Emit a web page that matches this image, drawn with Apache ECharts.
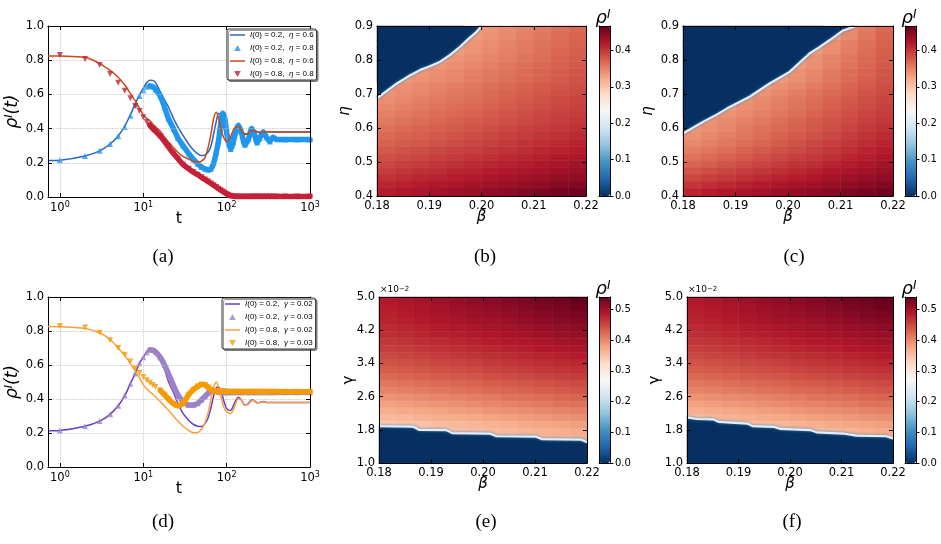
<!DOCTYPE html>
<html>
<head>
<meta charset="utf-8">
<title>rho I panels</title>
<script src="https://cdn.jsdelivr.net/npm/echarts@6.0.0/dist/echarts.min.js"></script>
<style>
  html, body { margin: 0; padding: 0; background: #fff; }
  #chart { width: 941px; height: 544px; }
</style>
</head>
<body>
<div id="chart"></div>
<script>
// ---- values ----

// time samples used by panels (a) and (d)
var tGrid = [0.72,1,2,3,4,5,6,7,8,9,10,11,12,13,14,16,18,20,23,26,30,35,40,45,50,55,60,65,70,75,80,85,90,95,100,
  105,112,120,130,138,150,166,183,200,215,232,250,275,300,330,360,400,500,700,1000];

// panel (a)
var blueLineA = [.213,.215,.24,.27,.31,.357,.415,.48,.544,.596,.636,.668,.683,.682,.67,.616,.567,.528,.46,.41,.36,
  .31,.275,.252,.242,.245,.262,.30,.37,.44,.49,.475,.43,.385,.35,.333,.34,.365,.395,.405,.39,
  .37,.372,.385,.388,.382,.378,.38,.382,.381,.38,.38,.38,.38,.38];
var blueMarkA = [.213,.215,.24,.27,.31,.355,.41,.475,.54,.59,.625,.645,.65,.645,.63,.59,.525,.46,.40,.345,.30,
  .255,.22,.195,.175,.165,.16,.165,.20,.26,.33,.43,.49,.46,.38,.32,.28,.32,.39,.42,.38,
  .305,.34,.40,.37,.318,.345,.38,.35,.325,.35,.337,.336,.336,.336];
var redLineA = [.825,.824,.817,.78,.74,.70,.655,.606,.563,.52,.48,.46,.445,.425,.41,.385,.35,.323,.29,.262,.238,
  .222,.21,.203,.21,.23,.29,.37,.46,.495,.46,.41,.36,.335,.323,.33,.355,.39,.41,.413,.39,
  .365,.372,.388,.388,.38,.377,.38,.382,.381,.38,.38,.38,.38,.38];
var redMarkA = [.832,.83,.807,.772,.719,.668,.622,.577,.532,.503,.466,.439,.42,.40,.385,.355,.325,.295,.255,.225,.19,
  .165,.145,.13,.115,.102,.09,.079,.068,.058,.048,.04,.032,.025,.018,.012,.007,.004,.003,.003,.003,
  .003,.003,.003,.003,.003,.003,.003,.003,.003,.003,.003,.003,.003,.003];

// panel (d)
var purpleLineD = [.213,.215,.24,.27,.31,.36,.42,.49,.55,.61,.645,.675,.69,.685,.672,.632,.575,.505,.44,.375,.315,
  .275,.25,.24,.238,.255,.29,.35,.42,.465,.47,.45,.41,.37,.345,.335,.333,.36,.395,.41,.395,
  .363,.375,.395,.39,.378,.38,.385,.38,.38,.38,.38,.38,.38,.38];
var lavMarkD = [.213,.215,.24,.27,.31,.36,.42,.49,.55,.61,.645,.675,.69,.688,.678,.645,.60,.55,.48,.425,.385,
  .365,.365,.375,.395,.415,.435,.447,.45,.447,.443,.44,.44,.44,.44,.44,.44,.44,.44,.44,.44,
  .44,.44,.44,.44,.44,.44,.44,.44,.44,.44,.44,.44,.44,.44];
var orangeLineD = [.826,.825,.815,.79,.75,.70,.655,.61,.565,.525,.485,.46,.443,.428,.413,.385,.358,.335,.30,.27,.24,
  .215,.202,.203,.222,.26,.32,.40,.47,.50,.47,.42,.37,.34,.325,.318,.315,.335,.38,.40,.395,
  .365,.37,.39,.39,.38,.378,.383,.38,.38,.38,.38,.38,.38,.38];
var orangeMarkD = [.831,.83,.82,.79,.745,.70,.66,.62,.58,.553,.53,.51,.495,.482,.47,.45,.425,.40,.372,.36,.375,
  .425,.455,.473,.485,.483,.468,.455,.447,.443,.444,.447,.446,.444,.443,.443,.443,.443,.443,.443,.443,
  .443,.443,.443,.443,.443,.443,.443,.443,.443,.443,.443,.443,.443,.443];

var namesA = ['I(0) = 0.2,  η = 0.6', 'I(0) = 0.2,  η = 0.8', 'I(0) = 0.8,  η = 0.6', 'I(0) = 0.8,  η = 0.8'];
var namesD = ['I(0) = 0.2,  γ = 0.02', 'I(0) = 0.2,  γ = 0.03', 'I(0) = 0.8,  γ = 0.02', 'I(0) = 0.8,  γ = 0.03'];

// heat maps: 24 rows from top to bottom, 12 beta columns from 0.18 to 0.22
var fieldB = [
  [0,0,0,0,0,.332,.338,.344,.350,.356,.362,.368],
  [0,0,0,0,0,.333,.339,.345,.352,.358,.364,.370],
  [0,0,0,0,.332,.338,.343,.349,.355,.361,.366,.372],
  [0,0,0,0,.333,.339,.345,.351,.356,.362,.368,.374],
  [0,0,0,.332,.338,.343,.349,.354,.360,.365,.371,.376],
  [0,0,.332,.337,.342,.347,.352,.358,.363,.368,.373,.378],
  [0,.332,.337,.342,.346,.351,.356,.361,.366,.370,.375,.380],
  [0,.334,.339,.344,.348,.353,.358,.363,.368,.372,.377,.382],
  [.336,.340,.345,.349,.354,.358,.363,.367,.372,.376,.381,.385],
  [.339,.343,.348,.352,.357,.361,.366,.370,.375,.379,.384,.388],
  [.343,.347,.352,.356,.360,.365,.369,.374,.378,.382,.387,.391],
  [.347,.351,.356,.360,.364,.368,.373,.377,.381,.385,.390,.394],
  [.352,.356,.360,.364,.368,.372,.377,.381,.385,.389,.393,.397],
  [.357,.361,.365,.369,.373,.377,.380,.384,.388,.392,.396,.400],
  [.362,.366,.370,.373,.377,.381,.385,.389,.393,.396,.400,.404],
  [.367,.371,.374,.378,.382,.386,.389,.393,.397,.401,.404,.408],
  [.372,.376,.379,.383,.387,.391,.394,.398,.402,.406,.409,.413],
  [.378,.382,.385,.389,.393,.396,.400,.403,.407,.411,.414,.418],
  [.384,.388,.391,.395,.398,.402,.405,.409,.412,.416,.420,.423],
  [.390,.394,.397,.401,.404,.408,.411,.415,.418,.422,.426,.429],
  [.397,.400,.404,.407,.411,.414,.418,.421,.425,.428,.432,.435],
  [.404,.407,.411,.414,.418,.421,.425,.428,.432,.435,.439,.442],
  [.411,.415,.418,.422,.425,.429,.432,.436,.439,.443,.447,.450],
  [.418,.422,.426,.430,.434,.438,.442,.446,.450,.454,.458,.462]
];
var fieldC = [
  [0,0,0,0,0,0,0,0,.332,.344,.356,.368],
  [0,0,0,0,0,0,0,0,.333,.345,.358,.370],
  [0,0,0,0,0,0,0,.332,.342,.352,.362,.372],
  [0,0,0,0,0,0,0,.333,.343,.354,.364,.374],
  [0,0,0,0,0,0,.332,.341,.350,.358,.367,.376],
  [0,0,0,0,0,0,.333,.342,.351,.360,.369,.378],
  [0,0,0,0,0,.332,.340,.348,.356,.364,.372,.380],
  [0,0,0,0,0,.333,.341,.349,.358,.366,.374,.382],
  [0,0,0,0,.332,.340,.347,.355,.362,.370,.377,.385],
  [0,0,0,.332,.339,.346,.353,.360,.367,.374,.381,.388],
  [0,0,.332,.339,.345,.352,.358,.365,.371,.378,.384,.391],
  [0,0,.334,.341,.347,.354,.361,.367,.374,.381,.387,.394],
  [0,.332,.339,.345,.352,.358,.365,.371,.378,.384,.391,.397],
  [.333,.339,.345,.351,.357,.363,.370,.376,.382,.388,.394,.400],
  [.336,.342,.348,.355,.361,.367,.373,.379,.385,.392,.398,.404],
  [.340,.346,.352,.359,.365,.371,.377,.383,.389,.396,.402,.408],
  [.346,.352,.358,.364,.370,.376,.383,.389,.395,.401,.407,.413],
  [.353,.359,.365,.371,.377,.383,.388,.394,.400,.406,.412,.418],
  [.361,.367,.372,.378,.384,.389,.395,.400,.406,.412,.417,.423],
  [.370,.375,.381,.386,.391,.397,.402,.407,.413,.418,.423,.429],
  [.380,.385,.390,.395,.400,.405,.410,.415,.420,.425,.430,.435],
  [.390,.395,.399,.404,.409,.414,.418,.423,.428,.433,.437,.442],
  [.401,.405,.410,.414,.419,.423,.428,.432,.437,.441,.446,.450],
  [.412,.417,.421,.426,.430,.435,.439,.444,.448,.453,.457,.462]
];
var fieldE = [
  [.486,.491,.496,.501,.506,.511,.515,.520,.525,.530,.535,.540],
  [.483,.488,.492,.497,.501,.506,.510,.515,.519,.524,.528,.533],
  [.480,.484,.488,.493,.497,.501,.505,.509,.513,.518,.522,.526],
  [.477,.481,.485,.489,.493,.497,.500,.504,.508,.512,.516,.520],
  [.473,.477,.480,.484,.488,.491,.495,.498,.502,.506,.509,.513],
  [.469,.472,.476,.479,.482,.486,.489,.493,.496,.499,.503,.506],
  [.463,.466,.470,.473,.476,.479,.483,.486,.489,.492,.496,.499],
  [.457,.460,.463,.467,.470,.473,.476,.479,.482,.486,.489,.492],
  [.450,.453,.456,.459,.462,.465,.469,.472,.475,.478,.481,.484],
  [.442,.445,.448,.451,.454,.457,.461,.464,.467,.470,.473,.476],
  [.434,.437,.440,.443,.446,.449,.453,.456,.459,.462,.465,.468],
  [.425,.428,.431,.434,.437,.440,.444,.447,.450,.453,.456,.459],
  [.415,.418,.421,.424,.427,.430,.434,.437,.440,.443,.446,.449],
  [.404,.407,.411,.414,.417,.420,.424,.427,.430,.433,.437,.440],
  [.392,.395,.399,.402,.405,.409,.412,.416,.419,.422,.426,.429],
  [.381,.384,.388,.391,.395,.398,.402,.405,.409,.412,.416,.419],
  [.369,.372,.376,.379,.383,.386,.390,.393,.397,.400,.404,.407],
  [.357,.360,.364,.367,.371,.374,.378,.381,.385,.388,.392,.395],
  [.343,.347,.350,.354,.358,.361,.365,.368,.372,.376,.379,.383],
  [0,0,.345,.348,.351,.354,.357,.360,.363,.366,.369,.372],
  [0,0,0,0,0,0,.350,.353,.356,.360,.363,.366],
  [0,0,0,0,0,0,0,0,0,0,0,0],
  [0,0,0,0,0,0,0,0,0,0,0,0],
  [0,0,0,0,0,0,0,0,0,0,0,0]
];
var fieldF = [
  [.486,.491,.496,.501,.506,.511,.515,.520,.525,.530,.535,.540],
  [.483,.488,.492,.497,.501,.506,.510,.515,.519,.524,.528,.533],
  [.480,.484,.488,.493,.497,.501,.505,.509,.513,.518,.522,.526],
  [.477,.481,.485,.489,.493,.497,.500,.504,.508,.512,.516,.520],
  [.473,.477,.480,.484,.488,.491,.495,.498,.502,.506,.509,.513],
  [.469,.472,.476,.479,.482,.486,.489,.493,.496,.499,.503,.506],
  [.463,.466,.470,.473,.476,.479,.483,.486,.489,.492,.496,.499],
  [.457,.460,.463,.467,.470,.473,.476,.479,.482,.486,.489,.492],
  [.450,.453,.456,.459,.462,.465,.469,.472,.475,.478,.481,.484],
  [.442,.445,.448,.451,.454,.457,.461,.464,.467,.470,.473,.476],
  [.434,.437,.440,.443,.446,.449,.453,.456,.459,.462,.465,.468],
  [.425,.428,.431,.434,.437,.440,.444,.447,.450,.453,.456,.459],
  [.415,.418,.421,.424,.427,.430,.434,.437,.440,.443,.446,.449],
  [.404,.407,.411,.414,.417,.420,.424,.427,.430,.433,.437,.440],
  [.392,.395,.399,.402,.405,.409,.412,.416,.419,.422,.426,.429],
  [.381,.384,.388,.391,.395,.398,.402,.405,.409,.412,.416,.419],
  [.369,.372,.376,.379,.383,.386,.390,.393,.397,.400,.404,.407],
  [.355,.360,.364,.367,.371,.374,.378,.381,.385,.388,.392,.395],
  [0,.345,.349,.353,.356,.360,.364,.368,.372,.376,.379,.383],
  [0,0,0,0,0,.348,.352,.356,.360,.364,.368,.372],
  [0,0,0,0,0,0,0,0,0,.352,.358,.364],
  [0,0,0,0,0,0,0,0,0,0,0,0],
  [0,0,0,0,0,0,0,0,0,0,0,0],
  [0,0,0,0,0,0,0,0,0,0,0,0]
];

// border of the rho=0 region (beta, eta or gamma)
var edgeBx = [.1800,.1815,.1838,.1860,.1883,.1900,.1921,.1940,.1959,.1975,.1990,.2000];
var edgeBy = [.687,.705,.731,.752,.771,.781,.795,.815,.839,.862,.882,.900];
var edgeCx = [.1800,.1838,.1865,.1889,.1927,.1965,.2003,.2041,.2060,.2079,.2105,.2130];
var edgeCy = [.584,.618,.640,.662,.692,.731,.765,.819,.838,.858,.887,.900];
var edgeEx = [.1800,.1866,.1877,.1930,.1941,.2013,.2026,.2102,.2114,.2188,.2200];
var edgeEy = [1.885,1.875,1.80,1.79,1.72,1.71,1.645,1.635,1.575,1.565,1.50];
var edgeFx = [.1800,.1819,.1852,.1862,.1917,.1927,.1969,.1982,.2040,.2052,.2103,.2129,.2187,.2200];
var edgeFy = [2.10,2.06,2.05,1.99,1.95,1.89,1.87,1.82,1.79,1.74,1.71,1.66,1.645,1.59];

var barTicksB = [0, 0.1, 0.2, 0.3, 0.4];
var barTicksE = [0, 0.1, 0.2, 0.3, 0.4, 0.5];

// ---- drawing ----
var RDBU = ['#053061','#2166ac','#4393c3','#92c5de','#d1e5f0','#f7f7f7','#fddbc7','#f4a582','#d6604d','#b2182b','#67001f'];
var SANS = 'DejaVu Sans';
var UP = 'path://M5,0L10,9L0,9Z';
var DOWN = 'path://M0,0L10,0L5,9Z';
var BAR = 'path://M0,0H30V3H0Z';

var grid = [], xAxis = [], yAxis = [], series = [], visualMap = [], legend = [], graphic = [];

function pairs(xs, ys, from) {
  var out = [];
  for (var i = from || 0; i < xs.length; i++) out.push([xs[i], ys[i]]);
  return out;
}

function boxAxis(gi, dim, pos, type, extra) {
  var a = {
    gridIndex: gi, type: type, position: pos, z: 5,
    axisLine: {show: true, onZero: false, lineStyle: {color: '#000', width: 1}},
    axisTick: {show: true, inside: true, length: 4, lineStyle: {color: '#000', width: 1}},
    axisLabel: {show: false},
    splitLine: {show: false},
    axisPointer: {show: false}
  };
  for (var k in extra) a[k] = extra[k];
  var list = dim === 'x' ? xAxis : yAxis;
  list.push(a);
  return list.length - 1;
}

function addText(x, y, text, style) {
  var s = {text: text, fill: '#000', textAlign: 'center', textVerticalAlign: 'middle',
    align: 'center', verticalAlign: 'middle'};
  for (var k in style) s[k] = style[k];
  graphic.push({type: 'text', x: x, y: y, silent: true, z: 20, style: s});
}

function linePanel(p) {
  var gi = grid.length;
  grid.push({left: p.box[0], top: p.box[1], width: p.box[2], height: p.box[3], outerBoundsMode: 'none'});
  var dots = {show: true, lineStyle: {color: '#b8b8b8', type: 'dotted', width: 0.8}};
  var xi = boxAxis(gi, 'x', 'bottom', 'log', {
    logBase: 10, min: 0.72, max: 1000, splitLine: dots,
    axisLabel: {show: true, margin: 4, showMinLabel: false,
      formatter: function (v) { return '{b|10}{s|' + Math.round(Math.log10(v)) + '}'; },
      rich: {b: {fontSize: 11.5, fontFamily: SANS, color: '#000', lineHeight: 15},
             s: {fontSize: 8, fontFamily: SANS, color: '#000', verticalAlign: 'top'}}},
    name: 't', nameLocation: 'middle', nameGap: 14, nameMoveOverlap: false,
    nameTextStyle: {fontSize: 16, fontFamily: SANS, color: '#000'}
  });
  boxAxis(gi, 'x', 'top', 'log', {logBase: 10, min: 0.72, max: 1000});
  var yi = boxAxis(gi, 'y', 'left', 'value', {
    min: 0, max: 1, interval: 0.2, splitLine: dots,
    axisLabel: {show: true, margin: 4, fontSize: 11.5, fontFamily: SANS, color: '#000',
      formatter: function (v) { return v.toFixed(1); }},
    name: '{r|ρ}{s|I}{r|(t)}', nameLocation: 'middle', nameGap: 27, nameRotate: 90, nameMoveOverlap: false,
    nameTextStyle: {fontSize: 17, fontFamily: SANS, color: '#000',
      rich: {r: {fontSize: 17, fontStyle: 'italic', fontFamily: SANS, color: '#000'},
             s: {fontSize: 11, fontStyle: 'italic', fontFamily: SANS, color: '#000', verticalAlign: 'top'}}}
  });
  boxAxis(gi, 'y', 'right', 'value', {min: 0, max: 1, interval: 0.2});

  var z = 2;
  function thin(k) {
    series.push({type: 'line', name: p.names[k], xAxisIndex: xi, yAxisIndex: yi, data: pairs(tGrid, p.vals[k]),
      symbol: 'none', smooth: 0.3, silent: true, z: z++,
      lineStyle: {color: p.colors[k], width: 1.5}, itemStyle: {color: p.colors[k]}});
  }
  function marks(k, sym, from) {
    series.push({type: 'scatter', name: p.names[k], xAxisIndex: xi, yAxisIndex: yi, data: pairs(tGrid, p.vals[k], 1),
      symbol: sym, symbolSize: 6, silent: true, z: z + 1, itemStyle: {color: p.colors[k]}});
    series.push({type: 'line', name: p.names[k], xAxisIndex: xi, yAxisIndex: yi, data: pairs(tGrid, p.vals[k], from),
      symbol: 'none', smooth: 0.3, silent: true, z: z,
      lineStyle: {color: p.colors[k], width: 5.5, cap: 'round', join: 'round'}, itemStyle: {color: p.colors[k]}});
    z += 2;
  }
  thin(0);
  marks(1, UP, p.bandFrom[0]);
  thin(2);
  marks(3, DOWN, p.bandFrom[1]);

  legend.push({
    orient: 'vertical', left: p.legend[0], top: p.legend[1], z: 10,
    padding: [2, 3, 2, 3], itemGap: 5, itemWidth: 15, itemHeight: 6,
    backgroundColor: '#fff', borderColor: '#333', borderWidth: 1, borderRadius: 2,
    shadowColor: 'rgba(0,0,0,0.4)', shadowOffsetX: 1.5, shadowOffsetY: 1.5, shadowBlur: 0,
    selectedMode: false,
    textStyle: {fontFamily: 'Liberation Sans', fontSize: 8, color: '#000',
      rich: {i: {fontFamily: 'Liberation Sans', fontStyle: 'italic', fontSize: 8, color: '#000'}}},
    formatter: function (n) { return n.replace('I(0)', '{i|I}(0)').replace(/([ηγ])/, '{i|$1}'); },
    data: [{name: p.names[0], icon: BAR}, {name: p.names[1], icon: UP},
           {name: p.names[2], icon: BAR}, {name: p.names[3], icon: DOWN}]
  });
}

function heatPanel(p) {
  var gi = grid.length;
  grid.push({left: p.box[0], top: p.box[1], width: p.box[2], height: p.box[3], outerBoundsMode: 'none'});
  var nr = p.field.length, nc = p.field[0].length, cols = [], rows = [], r, c;
  for (c = 0; c < nc; c++) cols.push(String(c));
  for (r = 0; r < nr; r++) rows.push(String(r));
  var cx = xAxis.length;
  xAxis.push({gridIndex: gi, type: 'category', data: cols, show: false, position: 'bottom'});
  var cy = yAxis.length;
  yAxis.push({gridIndex: gi, type: 'category', data: rows, show: false, position: 'left'});

  var vx = boxAxis(gi, 'x', 'bottom', 'value', {
    min: 0.18, max: 0.22, interval: 0.01,
    axisLabel: {show: true, margin: 4, fontSize: 11.5, fontFamily: SANS, color: '#000',
      formatter: function (v) { return v.toFixed(2); }},
    name: 'β', nameLocation: 'middle', nameGap: 14, nameMoveOverlap: false,
    nameTextStyle: {fontSize: 15, fontStyle: 'italic', fontFamily: SANS, color: '#000'}
  });
  boxAxis(gi, 'x', 'top', 'value', {min: 0.18, max: 0.22, interval: 0.01});
  var vy = boxAxis(gi, 'y', 'left', 'value', {
    min: p.yMin, max: p.yMax, interval: p.yStep,
    axisLabel: {show: true, margin: 4, fontSize: 11.5, fontFamily: SANS, color: '#000',
      formatter: function (v) { return v.toFixed(1); }},
    name: p.yName, nameLocation: 'middle', nameGap: p.yGap, nameRotate: 90, nameMoveOverlap: false,
    nameTextStyle: {fontSize: 15, fontStyle: p.yItalic ? 'italic' : 'normal', fontFamily: SANS, color: '#000'}
  });
  boxAxis(gi, 'y', 'right', 'value', {min: p.yMin, max: p.yMax, interval: p.yStep});

  var cells = [];
  for (r = 0; r < nr; r++) for (c = 0; c < nc; c++) cells.push([c, nr - 1 - r, p.field[r][c]]);
  var si = series.length;
  series.push({type: 'heatmap', xAxisIndex: cx, yAxisIndex: cy, data: cells, silent: true, z: 2,
    emphasis: {disabled: true}, itemStyle: {borderWidth: 0}});
  series.push({type: 'line', xAxisIndex: vx, yAxisIndex: vy, data: pairs(p.edgeX, p.edgeY),
    symbol: 'none', silent: true, z: 3,
    lineStyle: {color: '#e4eef6', width: 2.2, shadowBlur: 3, shadowColor: '#3f86c0'},
    areaStyle: {color: '#053061', opacity: 1, origin: p.origin}});

  // colour bar
  var bg = grid.length;
  grid.push({left: p.barX, top: p.box[1], width: 11, height: p.box[3], outerBoundsMode: 'none'});
  boxAxis(bg, 'x', 'bottom', 'value', {min: 0, max: 1, axisTick: {show: false}});
  boxAxis(bg, 'x', 'top', 'value', {min: 0, max: 1, axisTick: {show: false}});
  boxAxis(bg, 'y', 'left', 'value', {min: 0, max: p.vmax, axisTick: {show: false}});
  boxAxis(bg, 'y', 'right', 'value', {
    min: 0, max: p.vmax, interval: 0.1,
    axisTick: {show: true, inside: false, length: 3.5, customValues: p.barTicks, lineStyle: {color: '#000'}},
    axisLabel: {show: true, margin: 5, customValues: p.barTicks, fontSize: 10, fontFamily: SANS, color: '#000',
      formatter: function (v) { return v.toFixed(1); }}
  });
  visualMap.push({type: 'continuous', seriesIndex: si, min: 0, max: p.vmax, calculable: false,
    orient: 'vertical', left: p.barX, top: p.box[1], itemWidth: 11, itemHeight: p.box[3],
    padding: 0, hoverLink: false, z: 4, inRange: {color: RDBU}});

  addText(p.barX + 4, p.box[1] - 8, '{r|ρ}{s|I}', {
    rich: {r: {fontSize: 18, fontStyle: 'italic', fontFamily: SANS, fill: '#000'},
           s: {fontSize: 12, fontStyle: 'italic', fontFamily: SANS, fill: '#000', verticalAlign: 'top'}}});
}

linePanel({box: [48, 26, 262, 171], names: namesA, vals: [blueLineA, blueMarkA, redLineA, redMarkA],
  colors: ['#2b67c0', '#1f97ee', '#c9481d', '#c42038'], bandFrom: [12, 12], legend: [227, 29]});
linePanel({box: [48, 297, 262, 170], names: namesD, vals: [purpleLineD, lavMarkD, orangeLineD, orangeMarkD],
  colors: ['#6a3ccc', '#9b82c9', '#f7a040', '#f59a00'], bandFrom: [12, 15], legend: [222, 298]});

heatPanel({box: [377, 26, 209, 170], field: fieldB, edgeX: edgeBx, edgeY: edgeBy, origin: 'end',
  yMin: 0.4, yMax: 0.9, yStep: 0.1, yName: 'η', yItalic: true, yGap: 24,
  vmax: 0.467, barTicks: barTicksB, barX: 599});
heatPanel({box: [683, 26, 210, 170], field: fieldC, edgeX: edgeCx, edgeY: edgeCy, origin: 'end',
  yMin: 0.4, yMax: 0.9, yStep: 0.1, yName: 'η', yItalic: true, yGap: 27,
  vmax: 0.467, barTicks: barTicksB, barX: 905});
heatPanel({box: [379, 297, 208, 166], field: fieldE, edgeX: edgeEx, edgeY: edgeEy, origin: 'start',
  yMin: 1.0, yMax: 5.0, yStep: 0.8, yName: 'γ', yItalic: false, yGap: 22,
  vmax: 0.54, barTicks: barTicksE, barX: 599});
heatPanel({box: [687, 297, 206, 166], field: fieldF, edgeX: edgeFx, edgeY: edgeFy, origin: 'start',
  yMin: 1.0, yMax: 5.0, yStep: 0.8, yName: 'γ', yItalic: false, yGap: 24,
  vmax: 0.54, barTicks: barTicksE, barX: 905});

// scale factor of the gamma axes
var sciRich = {a: {fontSize: 9, fontFamily: SANS, fill: '#000'},
               s: {fontSize: 7, fontFamily: SANS, fill: '#000', verticalAlign: 'top'}};
addText(380, 290, '{a|×10}{s|−2}', {textAlign: 'left', align: 'left', rich: sciRich});
addText(688, 290, '{a|×10}{s|−2}', {textAlign: 'left', align: 'left', rich: sciRich});

// panel letters
var serif = {fontSize: 19, fontFamily: 'Liberation Serif'};
[['(a)', 163, 257], ['(b)', 485, 257], ['(c)', 794, 257],
 ['(d)', 163, 522], ['(e)', 486, 522], ['(f)', 792, 522]].forEach(function (l) {
  addText(l[1], l[2], l[0], serif);
});

var chart = echarts.init(document.getElementById('chart'));
chart.setOption({
  animation: false,
  backgroundColor: '#fff',
  grid: grid,
  xAxis: xAxis,
  yAxis: yAxis,
  series: series,
  visualMap: visualMap,
  legend: legend,
  graphic: graphic
});
</script>
</body>
</html>
